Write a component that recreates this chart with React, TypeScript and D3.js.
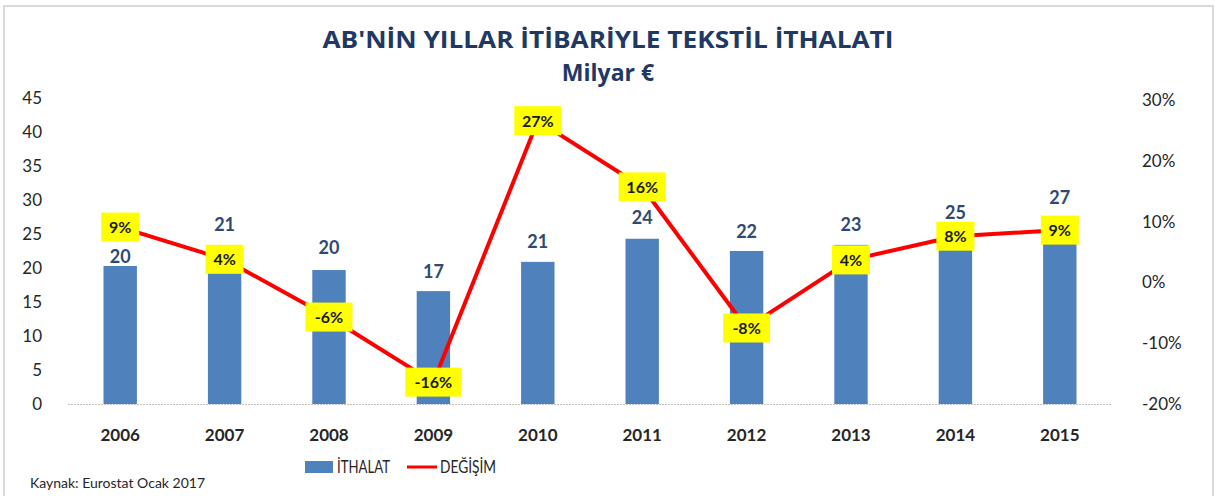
import React from "react";
import * as d3 from "d3";

const years = ["2006", "2007", "2008", "2009", "2010", "2011", "2012", "2013", "2014", "2015"];
const imports = [20.3, 21.0, 19.7, 16.6, 20.9, 24.3, 22.5, 23.4, 25.4, 27.4];
const importLabels = ["20", "21", "20", "17", "21", "24", "22", "23", "25", "27"];
const change = [0.091, 0.038, -0.057, -0.164, 0.266, 0.157, -0.075, 0.037, 0.076, 0.086];
const leftTicks = [0, 5, 10, 15, 20, 25, 30, 35, 40, 45];
const rightTicks = [-0.2, -0.1, 0, 0.1, 0.2, 0.3];
const title1 = "AB'NİN YILLAR İTİBARİYLE TEKSTİL İTHALATI";
const title2 = "Milyar €";
const legendBar = "İTHALAT";
const legendLine = "DEĞİŞİM";
const source = "Kaynak: Eurostat Ocak 2017";

// layout-only nudges for bar value labels that were moved in the original (px, upward)
const labelNudge = [0, 27, 13, 10, 11, 12, 10, 11, 9, 11];

const W = 1219;
const H = 496;
const FONT = "Lato, 'Open Sans', sans-serif";

export default function App() {
  const x0 = 68, x1 = 1112, yTop = 98, yBot = 404;
  const x = d3.scaleBand<string>().domain(years).range([x0, x1]).paddingInner(0.68).paddingOuter(0.34);
  const yL = d3.scaleLinear().domain([0, 45]).range([yBot, yTop]);
  const yR = d3.scaleLinear().domain([-0.2, 0.3]).range([yBot, yTop + 2]);
  const cx = (d: string) => (x(d) as number) + x.bandwidth() / 2;
  const line = d3.line<number>().x((_, i) => cx(years[i])).y((v) => yR(v));
  const pct = (v: number) => d3.format(".0%")(v).replace("\u2212", "-");

  return (
    <div style={{ position: "absolute", left: 0, top: 0 }}>
      <svg width={W} height={H} style={{ display: "block", fontFamily: FONT }}>
        <rect x={0} y={0} width={W} height={H} fill="#fff" />
        <rect x={4} y={6} width={1209} height={500} fill="none" stroke="#d9d9d9" strokeWidth={2} />
        <text x={608} y={48} textAnchor="middle" fontSize={24} fontWeight={700} fill="#1f3864" fontFamily="'Open Sans', sans-serif" textLength={571} lengthAdjust="spacingAndGlyphs">{title1}</text>
        <text x={608} y={81} textAnchor="middle" fontSize={23} fontWeight={700} fill="#1f3864" fontFamily="'Open Sans', sans-serif">{title2}</text>

        {leftTicks.map((t) => (
          <text key={"l" + t} x={42} y={yL(t) + 6} textAnchor="end" fontSize={17} fill="#262626">{t}</text>
        ))}
        {rightTicks.map((t) => (
          <text key={"r" + t} x={1142} y={yR(t) + 6} textAnchor="start" fontSize={17} fill="#262626">{pct(t)}</text>
        ))}

        {years.map((yr, i) => (
          <rect key={"b" + yr} x={x(yr)} y={yL(imports[i])} width={x.bandwidth()} height={yBot - yL(imports[i])} fill="#4f81bd" />
        ))}
        <line x1={x0} x2={x1} y1={yBot + 0.5} y2={yBot + 0.5} stroke="#bfbfbf" strokeWidth={1} strokeDasharray="2,1" />

        {years.map((yr, i) => (
          <text key={"bl" + yr} x={cx(yr)} y={yL(imports[i]) - 3 - labelNudge[i]} textAnchor="middle" fontSize={18} fontWeight={700} fill="#2f4a72">{importLabels[i]}</text>
        ))}

        <path d={line(change) || ""} fill="none" stroke="#ff0000" strokeWidth={4} strokeLinejoin="round" />

        {years.map((yr, i) => {
          const lbl = pct(change[i]);
          const w = lbl.length * 9 + 20;
          const h = 29;
          return (
            <g key={"cl" + yr}>
              <rect x={cx(yr) - w / 2} y={yR(change[i]) - h / 2} width={w} height={h} fill="#ffff00" />
              <text x={cx(yr)} y={yR(change[i]) + 6} textAnchor="middle" fontSize={16} fontWeight={700} fill="#1a1a1a">{lbl}</text>
            </g>
          );
        })}

        {years.map((yr) => (
          <text key={"x" + yr} x={cx(yr)} y={441} textAnchor="middle" fontSize={17} fontWeight={700} fill="#262626">{yr}</text>
        ))}

        <rect x={305} y={461} width={28} height={12} fill="#4f81bd" />
        <text x={337} y={473} fontSize={17} fill="#262626" textLength={53} lengthAdjust="spacingAndGlyphs">{legendBar}</text>
        <line x1={407} x2={437} y1={467} y2={467} stroke="#ff0000" strokeWidth={3} />
        <text x={440} y={473} fontSize={17} fill="#262626" textLength={56} lengthAdjust="spacingAndGlyphs">{legendLine}</text>

        <text x={30} y={488} fontSize={14} fill="#262626">{source}</text>
      </svg>
    </div>
  );
}
